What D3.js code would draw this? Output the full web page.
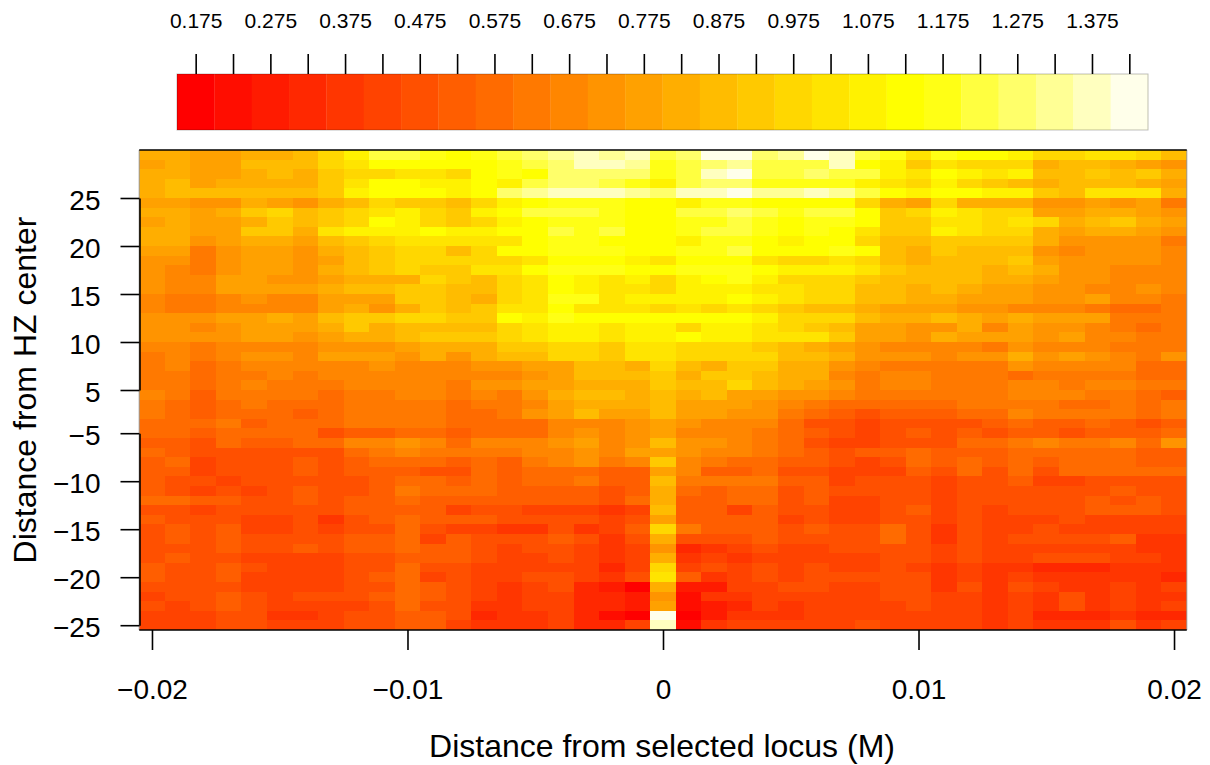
<!DOCTYPE html>
<html>
<head>
<meta charset="utf-8">
<script src="https://cdn.jsdelivr.net/npm/d3@7"></script>
<style>
  body { margin: 0; background: #fff; }
  svg { display: block; }
  text { font-family: "Liberation Sans", Arial, sans-serif; fill: #000; }
</style>
</head>
<body>
<script>
// heat.colors(26) as drawn on the key
var heatColors = ["#FF0000","#FF0D00","#FF1B00","#FF2800","#FF3600","#FF4300","#FF5000","#FF5E00","#FF6B00","#FF7900",
  "#FF8600","#FF9400","#FFA100","#FFAE00","#FFBC00","#FFC900","#FFD700","#FFE400","#FFF200","#FFFF00",
  "#FFFF15","#FFFF40","#FFFF6A","#FFFF95","#FFFFBF","#FFFFEA"];
var keyValues = [0.175,0.225,0.275,0.325,0.375,0.425,0.475,0.525,0.575,0.625,0.675,0.725,0.775,0.825,0.875,0.925,0.975,1.025,1.075,1.125,1.175,1.225,1.275,1.325,1.375,1.425];
var keyBreaks = [0.2,0.25,0.3,0.35,0.4,0.45,0.5,0.55,0.6,0.65,0.7,0.75,0.8,0.85,0.9,0.95,1,1.05,1.1,1.15,1.2,1.25,1.3,1.35,1.4];
var keyLabels = ["0.175","0.275","0.375","0.475","0.575","0.675","0.775","0.875","0.975","1.075","1.175","1.275","1.375"];

var xTicks = [-0.02,-0.01,0,0.01,0.02];
var xTickLabels = ["\u22120.02","\u22120.01","0","0.01","0.02"];
// rows are counted from the bottom of the image, there is no row for 0 so the labels jump
var yLowRows = [0,5,10,15,20];
var yLowLabels = ["\u221225","\u221220","\u221215","\u221210","\u22125"];
var yHighRows = [24.5,29.5,34.5,39.5,44.5];
var yHighLabels = ["5","10","15","20","25"];

// values x100, first line is the top row of the image, left to right
var cellValues = [
[83,83,78,78,83,83,88,98,108,123,123,118,113,118,123,128,133,138,133,138,123,128,143,143,128,133,143,138,123,118,103,118,113,113,108,98,98,103,103,98,88],
[78,83,78,78,88,88,88,98,103,113,113,113,113,113,118,123,128,138,138,133,118,123,128,133,123,123,123,138,113,108,93,103,98,98,98,83,88,88,83,78,73],
[83,83,78,78,83,88,83,93,98,98,103,103,98,113,118,113,128,128,128,128,118,123,138,143,123,123,128,123,123,108,103,113,108,103,108,88,88,93,88,93,83],
[83,88,78,83,83,83,83,93,103,113,113,108,108,113,108,123,128,128,123,118,108,123,128,128,118,118,118,118,108,103,98,108,98,93,88,83,88,88,88,83,78],
[83,88,88,88,88,88,88,93,108,113,113,113,108,113,128,133,138,138,138,133,128,138,138,143,133,133,138,133,123,113,108,113,113,108,108,93,88,103,103,103,83],
[78,78,73,73,83,78,73,83,88,98,93,93,88,98,108,113,118,118,118,113,113,108,118,118,113,113,113,113,98,83,78,98,83,83,83,73,73,78,73,78,63],
[83,83,78,83,93,98,88,93,98,103,108,98,93,108,113,123,123,123,118,113,113,123,123,128,123,118,123,123,113,93,98,108,103,98,98,78,78,83,83,78,73],
[78,83,78,78,83,93,88,93,98,113,108,98,93,98,108,113,118,118,118,113,113,118,118,123,118,113,118,118,113,93,93,103,103,98,103,98,83,88,93,83,78],
[83,83,78,78,93,93,83,103,108,108,108,113,108,108,113,113,123,118,123,113,113,118,123,123,118,113,118,113,103,93,93,108,103,98,98,83,78,83,83,78,73],
[83,83,73,78,83,83,78,88,93,98,103,103,103,103,103,113,118,118,113,113,113,108,118,118,113,108,113,113,98,88,88,93,93,93,93,83,73,73,73,73,63],
[78,78,63,73,78,78,73,83,88,93,98,98,88,98,113,113,118,118,118,113,113,118,118,123,113,113,113,118,113,88,83,93,88,88,88,73,68,73,73,73,68],
[73,73,63,73,78,78,73,78,88,93,98,98,98,98,98,103,113,113,113,108,103,113,113,113,103,98,98,103,98,88,83,88,88,88,93,78,73,73,73,73,68],
[73,68,63,73,78,78,73,83,88,93,98,93,93,103,103,113,118,118,118,113,113,118,118,118,113,108,108,108,103,93,88,88,88,83,88,83,73,73,68,68,68],
[73,68,68,78,78,73,73,78,83,83,83,98,93,88,98,103,113,108,103,108,98,108,113,118,108,98,98,98,93,88,88,88,88,83,83,78,73,73,68,68,68],
[73,68,68,78,78,78,78,83,88,88,93,93,88,88,98,103,113,108,103,103,98,108,108,108,103,103,98,98,88,88,83,88,83,78,78,73,73,68,68,73,68],
[68,63,63,68,73,68,68,78,78,78,93,93,88,83,98,103,118,118,103,108,108,108,108,113,108,103,98,98,88,88,83,83,78,78,78,73,73,78,68,68,63],
[68,63,63,68,68,68,68,78,83,73,83,93,88,93,103,103,113,103,103,103,98,103,98,103,98,93,88,88,83,78,78,78,73,73,68,68,68,63,58,58,63],
[73,73,73,78,78,83,78,88,93,93,98,98,93,93,113,108,118,113,113,113,113,113,113,113,108,98,98,98,88,83,83,88,83,78,83,78,78,78,63,63,63],
[73,73,68,73,78,78,78,83,93,83,88,88,88,88,98,103,108,108,103,108,108,98,108,108,103,98,93,88,78,78,73,73,83,68,78,73,73,68,63,58,63],
[73,73,73,73,78,78,73,78,83,83,88,93,93,93,98,103,108,108,103,108,108,113,108,108,103,103,103,93,78,78,73,83,78,78,78,73,78,68,68,63,63],
[68,68,63,68,68,68,68,73,73,73,78,83,83,83,93,93,98,98,93,103,103,98,98,98,93,88,83,78,73,68,68,68,68,63,73,68,68,68,63,63,63],
[63,68,63,68,73,73,68,78,78,78,73,83,73,83,88,88,98,98,93,103,103,98,98,98,98,88,88,83,73,73,73,68,73,73,83,73,78,73,68,63,73],
[63,68,58,63,68,68,68,68,68,73,68,68,68,73,73,78,78,88,88,83,98,88,83,93,93,83,83,73,68,63,63,63,63,63,73,68,68,68,68,58,58],
[63,63,58,63,63,68,63,68,68,68,68,68,68,68,68,73,78,88,88,88,93,83,93,93,88,83,83,68,63,68,68,63,63,63,58,63,63,63,63,58,58],
[63,63,58,63,68,63,63,63,68,68,68,68,63,73,73,78,78,83,83,83,93,88,88,98,88,83,78,73,63,68,68,63,63,63,68,68,63,68,68,63,63],
[68,63,53,63,63,63,63,58,63,63,68,68,63,68,63,73,83,88,88,83,88,83,88,78,78,73,73,68,63,63,63,63,63,63,68,68,68,63,63,58,53],
[63,58,53,58,63,58,58,58,63,63,63,63,58,63,63,68,78,83,83,83,88,78,78,78,73,68,63,58,58,58,58,58,63,63,63,63,58,58,63,58,63],
[63,58,53,58,58,58,53,58,63,63,63,63,58,58,63,73,78,88,78,78,88,78,78,73,73,63,58,53,48,53,53,53,58,58,68,63,63,63,63,58,63],
[58,58,58,63,53,58,58,58,63,63,63,63,58,58,58,58,68,68,68,73,78,73,68,68,68,58,48,48,43,48,48,48,48,53,58,53,53,58,53,48,53],
[58,58,53,58,58,58,58,48,53,53,58,58,53,58,58,58,68,73,68,73,78,68,68,68,63,58,53,48,43,48,53,48,53,48,53,53,48,53,53,53,58],
[53,53,48,58,53,53,58,58,68,68,73,68,58,68,68,68,73,78,68,73,88,73,73,68,63,58,48,43,43,48,48,48,58,58,63,68,63,63,68,58,73],
[58,53,48,48,48,48,48,48,58,63,68,63,63,63,63,68,68,73,68,78,78,73,68,68,63,58,53,48,53,53,58,53,53,53,58,58,58,58,58,53,53],
[53,58,43,48,48,48,53,48,53,58,58,58,53,58,53,63,68,73,63,68,93,68,63,58,58,53,53,48,43,48,58,53,58,53,58,53,58,58,58,53,53],
[53,53,43,48,48,48,53,48,53,53,53,48,48,58,53,58,58,58,53,53,78,68,53,53,58,48,48,43,43,43,53,48,58,48,58,48,58,58,58,58,58],
[53,48,48,43,48,48,48,48,48,53,58,58,53,58,53,58,58,63,53,53,88,63,63,63,63,53,53,43,48,48,48,43,48,48,53,43,43,48,48,48,48],
[53,48,43,48,43,48,53,48,48,53,63,58,58,58,53,53,53,53,48,53,83,58,53,58,58,48,53,48,48,48,48,43,48,48,48,48,48,48,53,48,48],
[58,58,53,53,48,48,53,48,53,53,58,53,53,53,53,53,53,53,48,58,83,53,53,58,58,48,53,43,43,48,48,43,48,48,48,48,48,53,48,53,48],
[48,48,43,48,48,48,48,48,53,53,53,53,43,48,48,43,43,43,38,43,88,53,53,43,53,48,48,43,43,48,53,43,48,43,48,48,48,53,53,53,48],
[53,48,48,48,43,43,48,38,48,53,58,53,53,53,48,48,48,48,43,48,78,53,53,53,53,43,48,43,43,48,48,43,48,43,43,43,48,43,43,43,43],
[48,53,48,53,43,43,48,43,48,48,58,48,43,43,38,38,48,38,43,53,98,63,53,53,53,48,53,48,48,58,48,38,48,43,43,48,43,43,43,43,43],
[48,53,48,53,48,48,48,48,53,53,58,43,53,48,48,48,53,48,38,48,83,48,48,48,53,48,48,48,48,58,48,38,48,43,48,48,48,48,53,38,38],
[48,48,48,53,48,48,53,48,53,53,58,53,53,48,43,48,48,43,38,43,73,33,38,43,48,43,43,48,48,48,48,43,48,43,43,43,43,43,43,38,38],
[48,53,48,48,43,43,43,43,48,48,53,53,53,48,43,43,48,43,38,43,83,38,43,38,43,43,43,43,43,48,48,43,48,43,43,48,48,48,43,43,38],
[53,48,48,53,48,43,43,43,48,48,58,48,48,43,43,43,43,43,33,43,98,43,48,43,48,43,48,43,43,48,43,38,43,38,38,33,33,33,38,38,38],
[53,48,48,53,43,43,43,43,48,53,58,43,48,43,43,48,48,43,38,48,103,53,38,43,48,43,48,48,48,48,48,38,43,38,43,38,38,38,38,38,33],
[48,48,48,48,43,43,43,43,48,48,58,53,48,43,38,43,48,33,28,18,83,28,28,43,43,48,48,43,43,48,48,38,48,38,48,43,38,38,43,38,43],
[43,48,48,53,48,43,48,48,48,53,58,53,48,43,38,43,43,33,33,28,73,23,38,38,43,43,43,43,43,48,48,43,43,38,43,38,48,38,43,38,38],
[48,43,48,53,48,43,43,43,43,48,58,48,48,38,38,43,43,33,33,28,78,23,28,33,43,38,43,43,43,43,48,43,43,38,43,38,48,38,43,38,43],
[43,43,43,48,48,38,38,43,48,48,53,53,48,33,38,38,43,33,23,18,143,18,28,38,38,38,43,43,43,43,43,43,43,38,43,33,33,33,38,33,33],
[43,43,43,48,48,43,43,43,48,48,53,53,43,38,38,38,43,33,33,43,138,23,38,43,43,43,43,43,48,43,43,43,43,38,43,38,38,38,48,38,43]
];

var color = d3.scaleThreshold().domain(keyBreaks).range(heatColors);

var svg = d3.select("body").append("svg")
  .attr("width", 1210)
  .attr("height", 765);

var x = d3.scaleLinear().domain([-0.0205, 0.0205]).range([139.2, 1186.8]);
var y = d3.scaleLinear().domain([-0.5, 49.5]).range([630, 150]);
var cellW = x(0.001) - x(0);
var cellH = y(0) - y(1);

/* Image */
cellValues.forEach(function(row, i) {
  svg.append("g")
    .selectAll("rect")
      .data(row)
    .enter().append("rect")
      .attr("x", function(d, j) { return x(-0.02 + j * 0.001) - cellW / 2; })
      .attr("y", y(49 - i) - cellH / 2)
      .attr("width", cellW)
      .attr("height", cellH)
      .attr("shape-rendering", "crispEdges")
      .style("fill", function(d) { return color(d / 100); });
});

// grey edge of the image on both sides
[x.range()[0], x.range()[1]].forEach(function(px) {
  svg.append("line")
    .attr("x1", px).attr("x2", px)
    .attr("y1", 150).attr("y2", 630)
    .style("stroke", "#999")
    .style("stroke-width", 1);
});

// frame lines above and below the image
[150, 630].forEach(function(py) {
  svg.append("line")
    .attr("x1", x.range()[0]).attr("x2", x.range()[1])
    .attr("y1", py).attr("y2", py)
    .style("stroke", "#000")
    .style("stroke-width", 1.6);
});

/* Axes */
var xAxis = d3.axisBottom(x)
  .tickValues(xTicks)
  .tickFormat(function(d, i) { return xTickLabels[i]; })
  .tickSize(20)
  .tickPadding(29);

svg.append("g")
  .attr("class", "axis")
  .attr("transform", "translate(0,630)")
  .call(xAxis)
  .select(".domain").remove();

function drawLeftAxis(rows, labels) {
  var part = d3.scaleLinear()
    .domain([rows[0], rows[rows.length - 1]])
    .range([y(rows[0]), y(rows[rows.length - 1])]);
  var g = svg.append("g")
    .attr("class", "axis")
    .attr("transform", "translate(139.5,0)")
    .call(d3.axisLeft(part)
      .tickValues(rows)
      .tickFormat(function(d, i) { return labels[i]; })
      .tickSize(19)
      .tickSizeOuter(0)
      .tickPadding(20));
  g.selectAll("text").attr("dy", "0.41em");
}
drawLeftAxis(yLowRows, yLowLabels);
drawLeftAxis(yHighRows, yHighLabels);

svg.selectAll(".axis text").style("font-size", "28px").style("font-family", "Liberation Sans");
svg.selectAll(".axis line, .axis path").style("stroke", "#000").style("stroke-width", 1.6);

svg.append("text")
  .attr("x", 662)
  .attr("y", 757)
  .attr("text-anchor", "middle")
  .style("font-size", "32px")
  .text("Distance from selected locus (M)");

svg.append("text")
  .attr("transform", "translate(36,390) rotate(-90)")
  .attr("text-anchor", "middle")
  .style("font-size", "32px")
  .text("Distance from HZ center");

/* Key */
var keyX = d3.scaleBand().domain(keyValues).range([177, 1148]);

svg.append("g")
  .selectAll("rect")
    .data(keyValues)
  .enter().append("rect")
    .attr("x", function(d) { return keyX(d); })
    .attr("y", 74)
    .attr("width", keyX.bandwidth() + 0.3)
    .attr("height", 56)
    .style("fill", function(d) { return color(d); });

svg.append("rect")
  .attr("x", 177)
  .attr("y", 74)
  .attr("width", 971)
  .attr("height", 56)
  .style("fill", "none")
  .style("stroke", "#000")
  .style("stroke-opacity", 0.25)
  .style("stroke-width", 1);

svg.append("g")
  .selectAll("line")
    .data(keyValues)
  .enter().append("line")
    .attr("x1", function(d) { return keyX(d) + keyX.bandwidth() / 2 + 0.5; })
    .attr("x2", function(d) { return keyX(d) + keyX.bandwidth() / 2 + 0.5; })
    .attr("y1", 54)
    .attr("y2", 74)
    .style("stroke", "#000")
    .style("stroke-width", 1.6);

svg.append("g")
  .selectAll("text")
    .data(keyLabels)
  .enter().append("text")
    .attr("x", function(d) { return keyX(+d) + keyX.bandwidth() / 2 + 0.5; })
    .attr("y", 28)
    .attr("text-anchor", "middle")
    .style("font-size", "21px")
    .text(function(d) { return d; });
</script>
</body>
</html>
